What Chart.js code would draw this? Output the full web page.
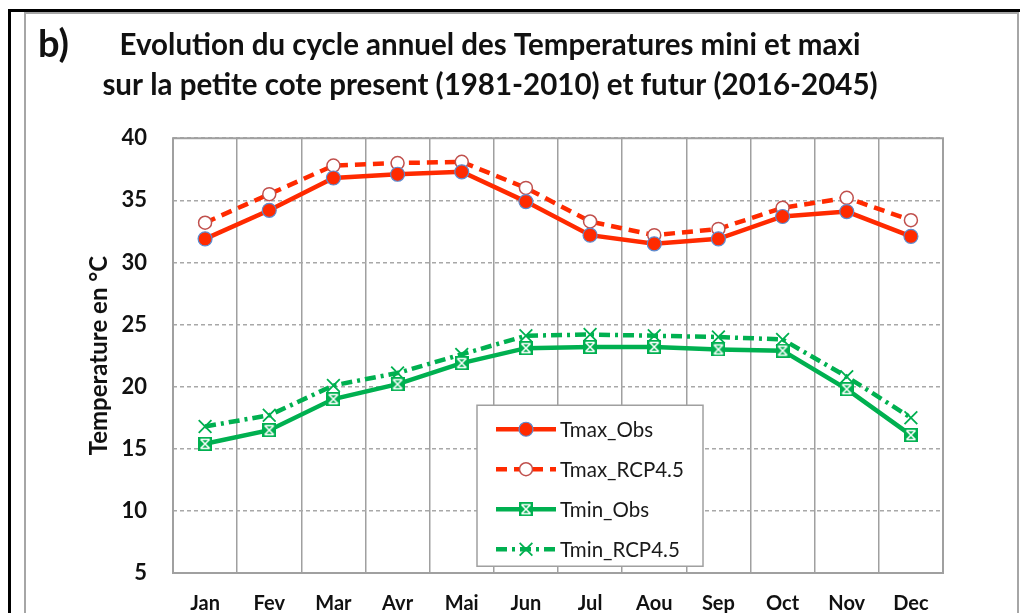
<!DOCTYPE html>
<html><head><meta charset="utf-8">
<script src="https://cdn.jsdelivr.net/npm/chart.js@4.4.0/dist/chart.umd.min.js"></script>
<style>html,body{margin:0;padding:0;background:#fff;overflow:hidden;width:1020px;height:613px}canvas{display:block}</style>
</head><body>
<canvas id="c" width="1020" height="640" style="width:1020px;height:640px"></canvas>
<script>
// ---- data ----
const months = ['Jan','Fev','Mar','Avr','Mai','Jun','Jul','Aou','Sep','Oct','Nov','Dec'];
const tmaxObs = [31.9,34.2,36.8,37.1,37.3,34.9,32.2,31.5,31.9,33.7,34.1,32.1];
const tmaxRcp = [33.2,35.5,37.8,38.0,38.1,36.0,33.3,32.2,32.7,34.4,35.2,33.4];
const tminObs = [15.4,16.5,19.0,20.2,21.9,23.1,23.2,23.2,23.0,22.9,19.8,16.1];
const tminRcp = [16.8,17.7,20.1,21.1,22.6,24.1,24.2,24.1,24.0,23.8,20.8,17.5];
const seriesNames = ['Tmax_Obs','Tmax_RCP4.5','Tmin_Obs','Tmin_RCP4.5'];
const titleLines = ['Evolution du cycle annuel des Temperatures mini et maxi','sur la petite cote present (1981-2010) et futur (2016-2045)'];
const panelLabel = 'b)';
const yAxisTitle = 'Temperature en \u00B0C';
const yMin = 5, yMax = 40, yStep = 5;

const RED = '#ff2a00', GREEN = '#00b050';
const FONT = 'Lato';

function makeBoxX(){
  const c=document.createElement('canvas');c.width=14;c.height=14;
  const g=c.getContext('2d');
  g.fillStyle=GREEN;g.fillRect(0,0,14,14);
  g.strokeStyle='#fff';g.lineWidth=1.5;g.beginPath();
  g.moveTo(2.5,2.5);g.lineTo(11.5,11.5);g.moveTo(11.5,2.5);g.lineTo(2.5,11.5);
  g.moveTo(2.5,2.5);g.lineTo(11.5,2.5);g.moveTo(2.5,11.5);g.lineTo(11.5,11.5);
  g.stroke();return c;
}

function drawMarker(ctx, ds, x, y){
  const ps = ds.pointStyle || 'circle';
  ctx.save();
  ctx.setLineDash([]);
  if (ps instanceof HTMLCanvasElement){
    ctx.drawImage(ps, x-ps.width/2, y-ps.height/2);
  } else if (ps === 'crossRot'){
    const r = ds.pointRadius*Math.SQRT1_2;
    ctx.strokeStyle = ds.pointBorderColor; ctx.lineWidth = ds.pointBorderWidth;
    ctx.beginPath(); ctx.moveTo(x-r,y-r); ctx.lineTo(x+r,y+r); ctx.moveTo(x+r,y-r); ctx.lineTo(x-r,y+r); ctx.stroke();
  } else {
    ctx.fillStyle = ds.pointBackgroundColor; ctx.strokeStyle = ds.pointBorderColor; ctx.lineWidth = ds.pointBorderWidth;
    ctx.beginPath(); ctx.arc(x,y,ds.pointRadius,0,Math.PI*2); ctx.fill(); ctx.stroke();
  }
  ctx.restore();
}

const decor = {
  id:'decor',
  beforeDraw(chart){
    const ctx=chart.ctx;
    ctx.save();
    ctx.fillStyle='#fff';ctx.fillRect(0,0,chart.width,chart.height);
    ctx.strokeStyle='#a6a6a6';ctx.lineWidth=2;
    ctx.strokeRect(25,13,993,700);
    ctx.fillStyle='#000';
    ctx.fillRect(8,9,chart.width-8,3);
    ctx.fillRect(8,9,3,chart.height);
    ctx.fillStyle='#111';
    ctx.font='bold 38px '+FONT;
    ctx.textBaseline='alphabetic';ctx.textAlign='left';
    ctx.fillText(panelLabel,38,57);
    ctx.restore();
  },
  beforeDatasetsDraw(chart){
    const ctx=chart.ctx,a=chart.chartArea;
    ctx.save();ctx.strokeStyle='#a0a0a0';ctx.lineWidth=2;
    ctx.strokeRect(a.left,a.top,a.right-a.left,a.bottom-a.top);
    ctx.restore();
  }
};

const insideLegend = {
  id:'insideLegend',
  afterDatasetsDraw(chart){
    const ctx=chart.ctx,a=chart.chartArea;
    const bx=a.left+304, by=a.top+267, bw=226, bh=161;
    ctx.save();
    ctx.fillStyle='#fff';ctx.fillRect(bx,by,bw,bh);
    ctx.strokeStyle='#a0a0a0';ctx.lineWidth=1.5;ctx.strokeRect(bx,by,bw,bh);
    chart.data.datasets.forEach((ds,i)=>{
      const y=by+24+i*40;
      ctx.save();
      ctx.strokeStyle=ds.borderColor;ctx.lineWidth=ds.borderWidth;
      ctx.setLineDash(ds.borderDash||[]);
      ctx.beginPath();ctx.moveTo(bx+19,y);ctx.lineTo(bx+79,y);ctx.stroke();
      ctx.restore();
      drawMarker(ctx,ds,bx+49,y);
      ctx.fillStyle='#1a1a1a';ctx.font='20.5px '+FONT;ctx.textBaseline='middle';ctx.textAlign='left';
      ctx.fillText(ds.label,bx+83,y+1);
    });
    ctx.restore();
  }
};

function build(){
  const boxX = makeBoxX();
  new Chart(document.getElementById('c'),{
    type:'line',
    data:{
      labels:months,
      datasets:[
        {label:seriesNames[0],data:tmaxObs,borderColor:RED,borderWidth:4.5,pointStyle:'circle',pointRadius:7,pointBackgroundColor:RED,pointBorderColor:'#5b8bd0',pointBorderWidth:1.2},
        {label:seriesNames[1],data:tmaxRcp,borderColor:RED,borderWidth:4.5,borderDash:[11,7],pointStyle:'circle',pointRadius:6.5,pointBackgroundColor:'#fff',pointBorderColor:'#c0504d',pointBorderWidth:1.5},
        {label:seriesNames[2],data:tminObs,borderColor:GREEN,borderWidth:4.5,pointStyle:boxX,pointRadius:7,pointBackgroundColor:GREEN,pointBorderColor:GREEN,pointBorderWidth:1},
        {label:seriesNames[3],data:tminRcp,borderColor:GREEN,borderWidth:4.5,borderDash:[11,5,3,5],pointStyle:'crossRot',pointRadius:9,pointBackgroundColor:GREEN,pointBorderColor:GREEN,pointBorderWidth:1.8}
      ]
    },
    options:{
      responsive:false,animation:false,devicePixelRatio:1,
      layout:{padding:{left:37,right:77,top:0,bottom:5}},
      plugins:{
        legend:{display:false},tooltip:{enabled:false},
        title:{display:true,text:titleLines,color:'#111',font:{family:FONT,size:29.5,weight:'bold',lineHeight:1.36},padding:{top:25,bottom:33}}
      },
      elements:{line:{tension:0}},
      scales:{
        x:{offset:true,
           grid:{offset:true,color:'#a0a0a0',lineWidth:1.5,drawTicks:false},
           border:{display:false},
           ticks:{color:'#111',font:{family:FONT,size:20,weight:'bold'},padding:19,maxRotation:0,autoSkip:false}},
        y:{min:yMin,max:yMax,
           afterFit(s){s.width=136;},
           grid:{color:'#a8a8a8',lineWidth:1.5,drawTicks:false},
           border:{display:false,dash:[4,3]},
           ticks:{stepSize:yStep,color:'#111',font:{family:FONT,size:22,weight:'bold'},padding:26},
           title:{display:true,text:yAxisTitle,color:'#111',font:{family:FONT,size:24,weight:'bold'},padding:{top:48,bottom:0}}}
      }
    },
    plugins:[decor,insideLegend]
  });
}
Promise.race([
  Promise.all([document.fonts.load('bold 20px Lato'),document.fonts.load('20px Lato')]),
  new Promise(r=>setTimeout(r,800))
]).then(build,build);
</script>
</body></html>
